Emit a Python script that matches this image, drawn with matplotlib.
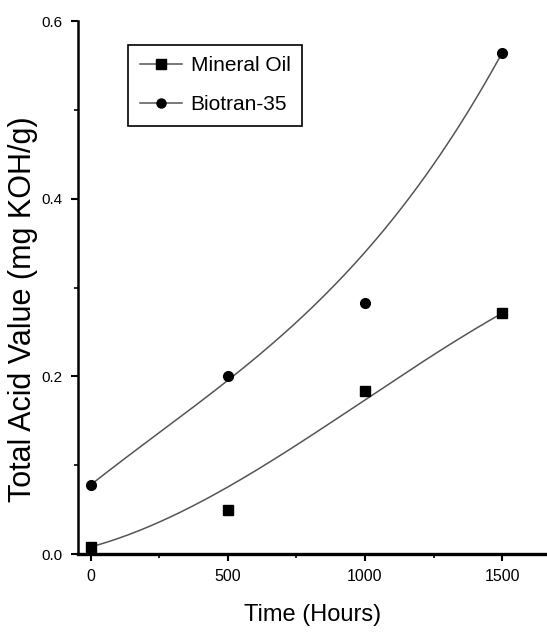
import numpy as np
import matplotlib
matplotlib.use("Agg")
import matplotlib.pyplot as plt
from math import comb

# TAN measurements over ageing time
hours = [0, 500, 1000, 1500]
mineral_oil = [0.008, 0.050, 0.184, 0.271]
biotran_35 = [0.078, 0.200, 0.282, 0.564]

x_ticks = [0, 500, 1000, 1500]
y_ticks = [0.0, 0.2, 0.4, 0.6]

sans = ['Liberation Sans', 'DejaVu Sans']


def bspline_curve(xs, ys, n=200):
    # B-spline connection using the points as control points (Bezier form)
    xs = np.asarray(xs, float)
    ys = np.asarray(ys, float)
    k = len(xs) - 1
    t = np.linspace(0, 1, n)
    basis = np.array([comb(k, i) * t**i * (1 - t)**(k - i) for i in range(k + 1)])
    return basis.T @ xs, basis.T @ ys


fig = plt.figure(figsize=(5.47, 6.33), dpi=100)
ax = fig.add_axes([0.1426, 0.1248, 0.8574, 0.842])

for ys, marker, label in [(mineral_oil, 's', 'Mineral Oil'),
                          (biotran_35, 'o', 'Biotran-35')]:
    cx, cy = bspline_curve(hours, ys)
    ax.plot(cx, cy, color='#555555', lw=1.1)
    ax.plot(hours, ys, linestyle='none', marker=marker, color='black', ms=7)
    # legend proxy: line with marker in the middle
    ax.plot([], [], color='#555555', lw=1.1, marker=marker, ms=6.5,
            mfc='black', mec='black', label=label)

ax.set_xlim(-47, 1664)
ax.set_ylim(0, 0.6)
ax.set_xticks(x_ticks)
ax.set_xticks([250, 750, 1250], minor=True)
ax.set_yticks(y_ticks)
ax.set_yticks([0.1, 0.3, 0.5], minor=True)
ax.set_xticklabels([str(v) for v in x_ticks], fontfamily=sans, fontsize=11.5)
ax.set_yticklabels(['%.1f' % v for v in y_ticks], fontfamily=sans, fontsize=11)

for side in ['top', 'right']:
    ax.spines[side].set_visible(False)
ax.spines['left'].set_linewidth(1.8)
ax.spines['bottom'].set_linewidth(2.4)
ax.tick_params(which='major', length=5, width=1.5, direction='out', pad=6)
ax.tick_params(which='minor', length=3, width=1.2, direction='out')

ax.set_xlabel('Time (Hours)', fontfamily=sans, fontsize=17, labelpad=14)
ax.set_ylabel('Total Acid Value (mg KOH/g)', fontfamily=sans, fontsize=22)
ax.yaxis.set_label_coords(-0.086, 0.46)

leg = ax.legend(loc='upper left', bbox_to_anchor=(0.107, 0.955), borderaxespad=0,
                fancybox=False, edgecolor='black', framealpha=1,
                prop={'family': sans, 'size': 15},
                handlelength=2.05, handletextpad=0.4, labelspacing=0.95,
                borderpad=0.55)
leg.get_frame().set_linewidth(1.2)

fig.savefig('out.png', dpi=100)
